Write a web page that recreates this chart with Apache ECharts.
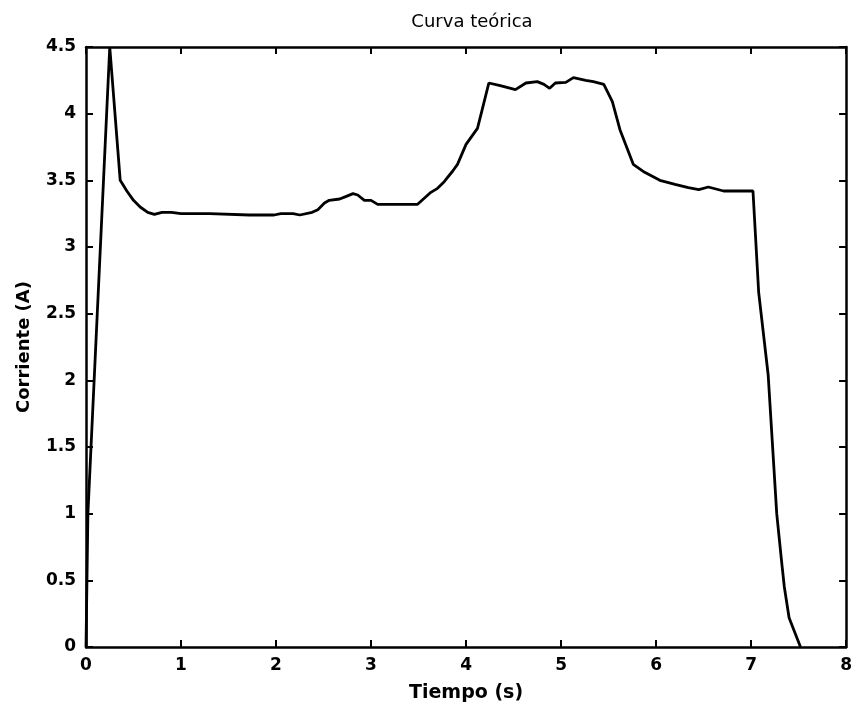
<!DOCTYPE html>
<html>
<head>
<meta charset="utf-8">
<script src="https://cdn.jsdelivr.net/npm/echarts@6/dist/echarts.min.js"></script>
<style>
  html, body { margin: 0; padding: 0; background: #ffffff; }
  #chart { width: 855px; height: 711px; }
</style>
</head>
<body>
<div id="chart"></div>
<script>
// Time samples (s)
var tiempo = [0, 0.02, 0.25, 0.36, 0.43, 0.50, 0.57, 0.65, 0.72, 0.80, 0.90, 1.0, 1.3, 1.72, 1.98, 2.05, 2.18, 2.25, 2.38, 2.44,
  2.51, 2.56, 2.67, 2.74, 2.81, 2.86, 2.93, 3.00, 3.07, 3.49, 3.56, 3.63, 3.70, 3.77, 3.86, 3.91, 4.00, 4.12, 4.17, 4.24,
  4.36, 4.52, 4.63, 4.75, 4.82, 4.88, 4.94, 5.05, 5.13, 5.26, 5.34, 5.45, 5.54, 5.62, 5.76, 5.88, 6.04, 6.20, 6.34, 6.45,
  6.55, 6.71, 7.02, 7.08, 7.18, 7.27, 7.32, 7.35, 7.40, 7.52];
// Current (A)
var corriente = [0, 1.0, 4.5, 3.5, 3.42, 3.35, 3.30, 3.26, 3.245, 3.26, 3.26, 3.25, 3.25, 3.24, 3.24, 3.25, 3.25, 3.24, 3.26, 3.28,
  3.33, 3.35, 3.36, 3.38, 3.40, 3.39, 3.35, 3.35, 3.32, 3.32, 3.365, 3.41, 3.44, 3.49, 3.57, 3.62, 3.77, 3.89, 4.03, 4.23,
  4.21, 4.18, 4.23, 4.24, 4.22, 4.19, 4.23, 4.235, 4.27, 4.25, 4.24, 4.22, 4.09, 3.88, 3.62, 3.56, 3.50, 3.47, 3.445, 3.43,
  3.45, 3.42, 3.42, 2.66, 2.04, 1.0, 0.65, 0.45, 0.22, 0];

var puntos = tiempo.map(function (t, i) { return [t, corriente[i]]; });

var FONT = '"DejaVu Sans", "Liberation Sans", Arial, sans-serif';
var lineStyleAxis = { color: '#000', width: 2.5 };

function boxAxis(pos, showLabels, extra) {
  var a = {
    position: pos,
    axisLine: { show: true, onZero: false, lineStyle: lineStyleAxis },
    axisTick: { show: true, inside: true, length: 7, lineStyle: { color: '#000', width: 2 } },
    splitLine: { show: false },
    axisLabel: showLabels ? {
      show: true, color: '#000', fontFamily: FONT, fontSize: 17, fontWeight: 'bold',
      margin: 10, showMinLabel: true, showMaxLabel: true
    } : { show: false }
  };
  for (var k in extra) a[k] = extra[k];
  return a;
}

var chart = echarts.init(document.getElementById('chart'));
chart.setOption({
  animation: false,
  backgroundColor: '#ffffff',
  title: {
    text: 'Curva teórica',
    left: 467, top: 8, textAlign: 'center',
    textStyle: { fontFamily: FONT, fontSize: 18, fontWeight: 'normal', color: '#000' }
  },
  grid: { left: 86, right: 6, top: 47, bottom: 64, containLabel: false },
  xAxis: [
    boxAxis('bottom', true, {
      type: 'value', min: 0, max: 8, interval: 1,
      name: 'Tiempo (s)', nameLocation: 'middle', nameGap: 37,
      nameTextStyle: { fontFamily: FONT, fontSize: 19, fontWeight: 'bold', color: '#000' }
    }),
    boxAxis('top', false, { type: 'value', min: 0, max: 8, interval: 1 })
  ],
  yAxis: [
    boxAxis('left', true, {
      type: 'value', min: 0, max: 4.5, interval: 0.5,
      name: 'Corriente (A)', nameLocation: 'middle', nameGap: 53,
      nameTextStyle: { fontFamily: FONT, fontSize: 18, fontWeight: 'bold', color: '#000' }
    }),
    boxAxis('right', false, { type: 'value', min: 0, max: 4.5, interval: 0.5 })
  ],
  series: [{
    type: 'line',
    xAxisIndex: 0, yAxisIndex: 0,
    data: puntos,
    showSymbol: false,
    smooth: false,
    clip: true,
    lineStyle: { color: '#000', width: 2.8 }
  }]
});
</script>
</body>
</html>
